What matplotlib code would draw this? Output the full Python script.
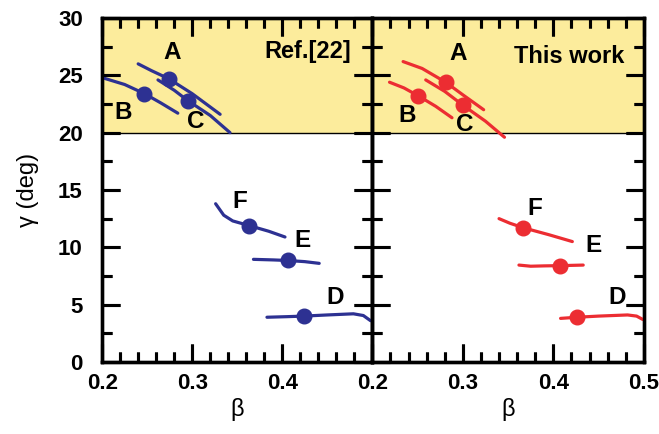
import numpy as np
import matplotlib
matplotlib.use("Agg")
import matplotlib.pyplot as plt
from matplotlib.ticker import MultipleLocator, FixedLocator

plt.rcParams['font.family'] = ['Liberation Sans', 'DejaVu Sans']

# ---- data (beta, gamma) ----
# left panel: Ref.[22]
ref_A_b = [0.240, 0.255, 0.274, 0.300, 0.331]
ref_A_g = [26.0, 25.4, 24.7, 23.4, 21.6]
ref_C_b = [0.262, 0.280, 0.295, 0.320, 0.342]
ref_C_g = [24.6, 23.7, 22.8, 21.5, 20.0]
ref_B_b = [0.200, 0.225, 0.247, 0.265, 0.284]
ref_B_g = [24.8, 24.2, 23.4, 22.6, 21.7]
ref_F_b = [0.326, 0.335, 0.345, 0.363, 0.385, 0.403]
ref_F_g = [13.8, 12.8, 12.3, 11.9, 11.4, 10.9]
ref_E_b = [0.368, 0.390, 0.406, 0.425, 0.441]
ref_E_g = [8.95, 8.9, 8.85, 8.75, 8.6]
ref_D_b = [0.383, 0.405, 0.424, 0.450, 0.479, 0.490, 0.498]
ref_D_g = [3.9, 3.95, 4.0, 4.1, 4.2, 4.05, 3.6]
ref_pts_b = [0.274, 0.247, 0.295, 0.424, 0.406, 0.363]
ref_pts_g = [24.7, 23.4, 22.8, 4.0, 8.85, 11.9]

# right panel: This work
tw_A_b = [0.234, 0.255, 0.281, 0.300, 0.323]
tw_A_g = [26.2, 25.6, 24.4, 23.3, 22.0]
tw_C_b = [0.259, 0.280, 0.300, 0.325, 0.346]
tw_C_g = [24.6, 23.6, 22.4, 21.0, 19.6]
tw_B_b = [0.219, 0.235, 0.251, 0.270, 0.288]
tw_B_g = [24.4, 23.9, 23.2, 22.3, 21.3]
tw_F_b = [0.340, 0.352, 0.367, 0.395, 0.421]
tw_F_g = [12.5, 12.1, 11.7, 11.1, 10.5]
tw_E_b = [0.362, 0.375, 0.390, 0.407, 0.433]
tw_E_g = [8.45, 8.35, 8.38, 8.4, 8.45]
tw_D_b = [0.408, 0.426, 0.450, 0.482, 0.492, 0.499]
tw_D_g = [3.8, 3.9, 4.0, 4.1, 4.0, 3.7]
tw_pts_b = [0.281, 0.251, 0.300, 0.426, 0.407, 0.367]
tw_pts_g = [24.4, 23.2, 22.4, 3.9, 8.4, 11.7]

letters = ['A', 'B', 'C', 'D', 'E', 'F']
ref_lab_b = [0.278, 0.223, 0.304, 0.459, 0.422, 0.353]
ref_lab_g = [27.0, 21.8, 21.0, 5.6, 10.6, 14.0]
tw_lab_b = [0.295, 0.238, 0.302, 0.470, 0.444, 0.380]
tw_lab_g = [26.9, 21.5, 20.7, 5.6, 10.2, 13.4]

blue = '#2D3192'
red = '#EC2D32'
yellow = '#FCEC9C'

fig = plt.figure(figsize=(6.59, 4.34), dpi=100)
pos1 = [0.155, 0.166, 0.410, 0.7925]
pos2 = [0.565, 0.166, 0.412, 0.7925]
ax1 = fig.add_axes(pos1)
ax2 = fig.add_axes(pos2)

panels = [
    (ax1, pos1, blue, [(ref_A_b, ref_A_g), (ref_C_b, ref_C_g), (ref_B_b, ref_B_g),
                       (ref_F_b, ref_F_g), (ref_E_b, ref_E_g), (ref_D_b, ref_D_g)],
     ref_pts_b, ref_pts_g, ref_lab_b, ref_lab_g, 'Ref.[22]', 0.476, 27.1,
     [0.2, 0.3, 0.4]),
    (ax2, pos2, red, [(tw_A_b, tw_A_g), (tw_C_b, tw_C_g), (tw_B_b, tw_B_g),
                      (tw_F_b, tw_F_g), (tw_E_b, tw_E_g), (tw_D_b, tw_D_g)],
     tw_pts_b, tw_pts_g, tw_lab_b, tw_lab_g, 'This work', 0.478, 26.6,
     [0.2, 0.3, 0.4, 0.5]),
]

for ax, pos, col, curves, pb, pg, lb, lg, title, tx, ty, xt in panels:
    ax.axhspan(20, 30, facecolor=yellow, zorder=0, lw=0)
    ax.axhline(20, color='black', lw=1.0, zorder=1)
    for xs, ys in curves:
        ax.plot(xs, ys, color=col, lw=2.3, solid_capstyle='round', zorder=3)
    ax.plot(pb, pg, 'o', color=col, ms=10.5, zorder=4)
    for t, xl, yl in zip(letters, lb, lg):
        ax.text(xl, yl, t, fontsize=17.5, fontweight='bold', ha='center', va='center')
    ax.text(tx, ty, title, fontsize=17, fontweight='bold', ha='right', va='center')
    ax.set_xlim(0.2, 0.5)
    ax.set_ylim(0, 30)
    ax.xaxis.set_major_locator(FixedLocator(xt))
    ax.xaxis.set_minor_locator(MultipleLocator(0.02))
    ax.yaxis.set_major_locator(MultipleLocator(5))
    ax.yaxis.set_minor_locator(MultipleLocator(2.5))
    ax.tick_params(which='both', direction='in', top=True, right=True, width=2.2,
                   labelsize=16)
    ax.tick_params(which='major', length=13)
    ax.tick_params(which='minor', length=7)
    ax.tick_params(axis='x', pad=8)
    ax.tick_params(axis='y', pad=14)
    for lab in ax.get_xticklabels() + ax.get_yticklabels():
        lab.set_fontweight('bold')
    for s in ax.spines.values():
        s.set_linewidth(2.4)
    ax.set_xlabel('β', fontsize=17, labelpad=3)

    # transparent overlay axes on top, carrying only the inward ticks
    ov = fig.add_axes(pos, zorder=10)
    ov.patch.set_alpha(0)
    ov.set_xlim(0.2, 0.5)
    ov.set_ylim(0, 30)
    ov.xaxis.set_major_locator(MultipleLocator(0.1))
    ov.xaxis.set_minor_locator(MultipleLocator(0.02))
    ov.yaxis.set_major_locator(MultipleLocator(5))
    ov.yaxis.set_minor_locator(MultipleLocator(2.5))
    ov.tick_params(which='both', direction='in', top=True, right=True,
                   bottom=True, left=True, width=2.2, color='black',
                   labelbottom=False, labelleft=False)
    ov.tick_params(which='major', length=13)
    ov.tick_params(which='minor', length=7)
    for s in ov.spines.values():
        s.set_linewidth(2.4)

ax2.tick_params(labelleft=False)
ax1.set_ylabel('γ (deg)', fontsize=17, labelpad=14)

fig.savefig('out.png', dpi=100)
